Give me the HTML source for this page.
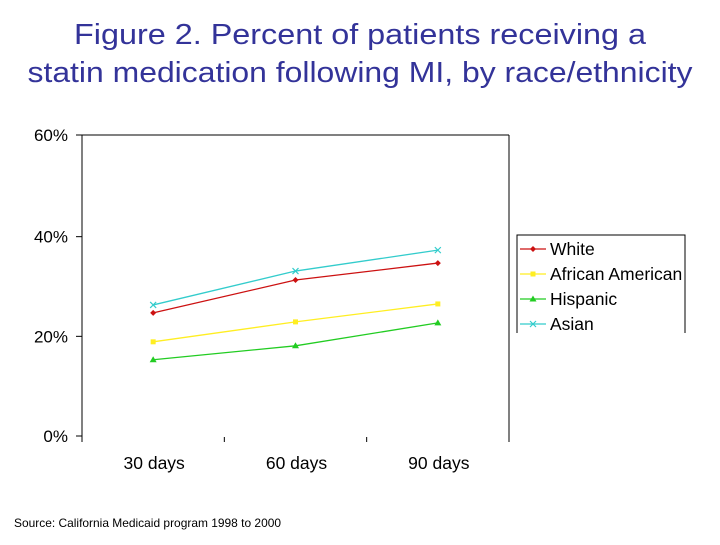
<!DOCTYPE html>
<html><head><meta charset="utf-8"><style>
body{margin:0;background:#fff;width:720px;height:540px;overflow:hidden;font-family:"Liberation Sans",sans-serif}
</style></head><body>
<svg width="720" height="540" id="c" font-family="Liberation Sans, sans-serif">
<text x="360" y="44" text-anchor="middle" font-size="29" fill="#333399" textLength="572" lengthAdjust="spacingAndGlyphs">Figure 2.  Percent of patients receiving a</text>
<text x="360" y="82" text-anchor="middle" font-size="29" fill="#333399" textLength="665" lengthAdjust="spacingAndGlyphs">statin medication following MI, by race/ethnicity</text>
<text x="14" y="527" font-size="12" fill="#000" textLength="267" lengthAdjust="spacingAndGlyphs">Source: California Medicaid program 1998 to 2000</text>
</svg>
<script>
const categories=["30 days","60 days","90 days"];
const yTicks=[0,20,40,60];
const seriesNames=["White","African American","Hispanic","Asian"];
const white=[24.7,31.3,34.7];
const africanAmerican=[18.9,22.9,26.5];
const hispanic=[15.3,18.1,22.7];
const asian=[26.3,33.1,37.3];
const colors=["#cc1111","#ffee22","#22cc22","#33cccc"];
const svg=document.getElementById('c');
const NS="http://www.w3.org/2000/svg";
function mk(t,a){const e=document.createElementNS(NS,t);for(const k in a)e.setAttribute(k,a[k]);svg.appendChild(e);return e;}
const L=82,R=509,T=135,B=442,Y0=436,Y60=137;
function y(v){return Y0-(v/60)*(Y0-Y60);}
const step=(R-L)/categories.length;
function x(i){return L+step*(i+0.5);}
let e;
e=mk('line',{x1:L,y1:T,x2:R,y2:T,stroke:'#000','stroke-width':1});


e=mk('line',{x1:L,y1:T,x2:L,y2:B,stroke:'#000','stroke-width':1});


e=mk('line',{x1:R,y1:T,x2:R,y2:B,stroke:'#000','stroke-width':1});


yTicks.forEach(v=>{
 const yy=(v===60?T:y(v));
 e=mk('line',{x1:L-6,y1:yy,x2:L,y2:yy,stroke:'#000'});
 
 
 e=mk('text',{x:68,y:yy+6,'text-anchor':'end','font-size':17});
 e.textContent=v+'%';
 
 
});
for(let i=1;i<categories.length;i++){
 e=mk('line',{x1:L+step*i,y1:B-5,x2:L+step*i,y2:B,stroke:'#000'});
 
 
}
categories.forEach((c,i)=>{
 e=mk('text',{x:x(i)+1,y:469,'text-anchor':'middle','font-size':17.5});
 e.textContent=c;
 
 
});
function marker(s,cx,cy,col){
 if(s===0) return mk('polygon',{points:`${cx},${cy-3} ${cx+3},${cy} ${cx},${cy+3} ${cx-3},${cy}`,fill:col});
 if(s===1) return mk('rect',{x:cx-2.5,y:cy-2.5,width:5,height:5,fill:col});
 if(s===2) return mk('polygon',{points:`${cx},${cy-3.5} ${cx+3.5},${cy+2.5} ${cx-3.5},${cy+2.5}`,fill:col});
 return mk('path',{d:`M${cx-3} ${cy-3}L${cx+3} ${cy+3}M${cx+3} ${cy-3}L${cx-3} ${cy+3}`,stroke:col,'stroke-width':1.2});
}
[white,africanAmerican,hispanic,asian].forEach((vals,s)=>{
 e=mk('polyline',{points:vals.map((v,i)=>x(i)+','+y(v)).join(' '),fill:'none',stroke:colors[s],'stroke-width':1.3});
 
 
 vals.forEach((v,i)=>{
  e=marker(s,x(i),y(v),colors[s]);
  
  
 });
});
e=mk('path',{d:'M517 333L517 235L685 235L685 333',fill:'none',stroke:'#000'});


seriesNames.forEach((n,s)=>{
 const ly=249+25*s;
 e=mk('line',{x1:520,y1:ly,x2:546,y2:ly,stroke:colors[s],'stroke-width':1.3});
 
 
 e=marker(s,533,ly,colors[s]);
 
 
 e=mk('text',{x:550,y:ly+6,'font-size':17.5});
 e.textContent=n;
 
 
});
</script>
</body></html>
